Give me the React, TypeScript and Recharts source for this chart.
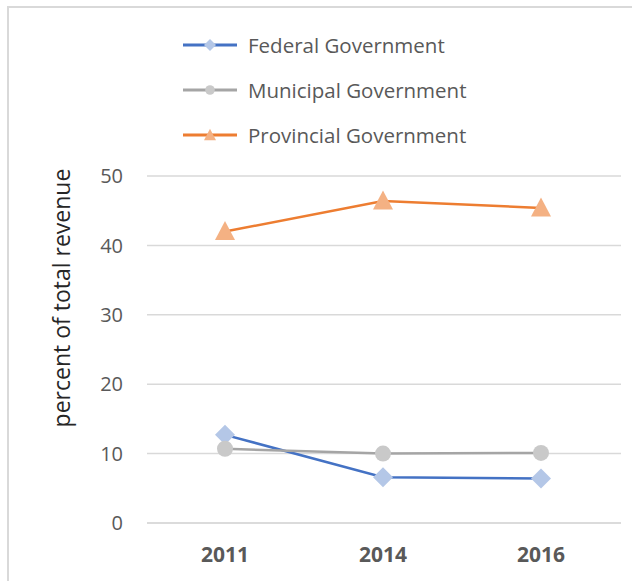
import { LineChart, Line, XAxis, YAxis, CartesianGrid, Legend } from "recharts";

const years = ["2011", "2014", "2016"];
const federal = [12.7, 6.6, 6.4];
const municipal = [10.7, 10.0, 10.1];
const provincial = [42.0, 46.4, 45.4];
const yTicks = [0, 10, 20, 30, 40, 50];

const data = years.map((year, i) => ({
  year,
  federal: federal[i],
  municipal: municipal[i],
  provincial: provincial[i],
}));

const FONT = "'Open Sans', 'Noto Sans', sans-serif";
const GRID = "#d9d9d9";
const TEXT = "#595959";

type Shape = "diamond" | "circle" | "triangle";

const series: { key: string; name: string; line: string; fill: string; shape: Shape }[] = [
  { key: "federal", name: "Federal Government", line: "#4472c4", fill: "#b4c7e7", shape: "diamond" },
  { key: "municipal", name: "Municipal Government", line: "#a5a5a5", fill: "#c9c9c9", shape: "circle" },
  { key: "provincial", name: "Provincial Government", line: "#ed7d31", fill: "#f4b183", shape: "triangle" },
];

function marker(shape: Shape, cx: number, cy: number, r: number, fill: string, key?: string) {
  if (shape === "diamond") {
    return (
      <polygon
        key={key}
        points={`${cx},${cy - r} ${cx + r},${cy} ${cx},${cy + r} ${cx - r},${cy}`}
        fill={fill}
      />
    );
  }
  if (shape === "circle") {
    return <circle key={key} cx={cx} cy={cy} r={r * 0.8} fill={fill} />;
  }
  const h = r * 1.9;
  return (
    <polygon
      key={key}
      points={`${cx},${cy - h * 0.55} ${cx + r},${cy + h * 0.45} ${cx - r},${cy + h * 0.45}`}
      fill={fill}
    />
  );
}

function LegendBox() {
  return (
    <div style={{ fontFamily: FONT }}>
      {series.map((s) => (
        <div key={s.key} style={{ display: "flex", alignItems: "center", height: 45 }}>
          <svg width={65} height={24} style={{ display: "block" }}>
            <line x1={0} y1={12} x2={54} y2={12} stroke={s.line} strokeWidth={3} />
            {marker(s.shape, 27, 12, 6, s.fill)}
          </svg>
          <span style={{ fontSize: 20.5, color: TEXT, whiteSpace: "nowrap" }}>{s.name}</span>
        </div>
      ))}
    </div>
  );
}

export default function App() {
  return (
    <div style={{ position: "absolute", left: 0, top: 0, width: 632, height: 581, overflow: "hidden", background: "#fff" }}>
      <div
        style={{
          position: "absolute",
          left: 7,
          top: 6,
          width: 640,
          height: 600,
          borderTop: `2px solid ${GRID}`,
          borderLeft: `2px solid ${GRID}`,
        }}
      />
      <div style={{ position: "absolute", left: 0, top: 0 }}>
        <LineChart width={632} height={581} data={data} margin={{ top: 176, right: 11, bottom: 28, left: 87 }}>
          <CartesianGrid vertical={false} stroke={GRID} strokeWidth={1.5} />
          <XAxis
            dataKey="year"
            height={30}
            padding={{ left: 78, right: 80 }}
            tickLine={false}
            axisLine={{ stroke: GRID, strokeWidth: 1.5 }}
            tickSize={6}
            tickMargin={18}
            tick={{ fill: TEXT, fontSize: 21, fontWeight: 700, fontFamily: FONT }}
          />
          <YAxis
            width={60}
            domain={[0, 50]}
            ticks={yTicks}
            axisLine={false}
            tickLine={false}
            tickSize={6}
            tickMargin={18}
            tick={{ fill: TEXT, fontSize: 20, fontFamily: FONT }}
            label={{
              content: () => (
                <text
                  x={61}
                  y={298}
                  transform="rotate(-90 61 298)"
                  textAnchor="middle"
                  dominantBaseline="central"
                  fill="#262626"
                  fontSize={23}
                  fontFamily={FONT}
                >
                  percent of total revenue
                </text>
              ),
            }}
          />
          <Legend
            layout="vertical"
            align="center"
            verticalAlign="middle"
            content={() => <LegendBox />}
            wrapperStyle={{ left: 183, top: 22, width: 330, height: 135 }}
          />
          {series.map((s) => (
            <Line
              key={s.key}
              dataKey={s.key}
              name={s.name}
              stroke={s.line}
              strokeWidth={2.5}
              isAnimationActive={false}
              activeDot={false}
              dot={(p: any) => marker(s.shape, p.cx, p.cy, 10, s.fill, `${s.key}-${p.index}`)}
            />
          ))}
        </LineChart>
      </div>
    </div>
  );
}
